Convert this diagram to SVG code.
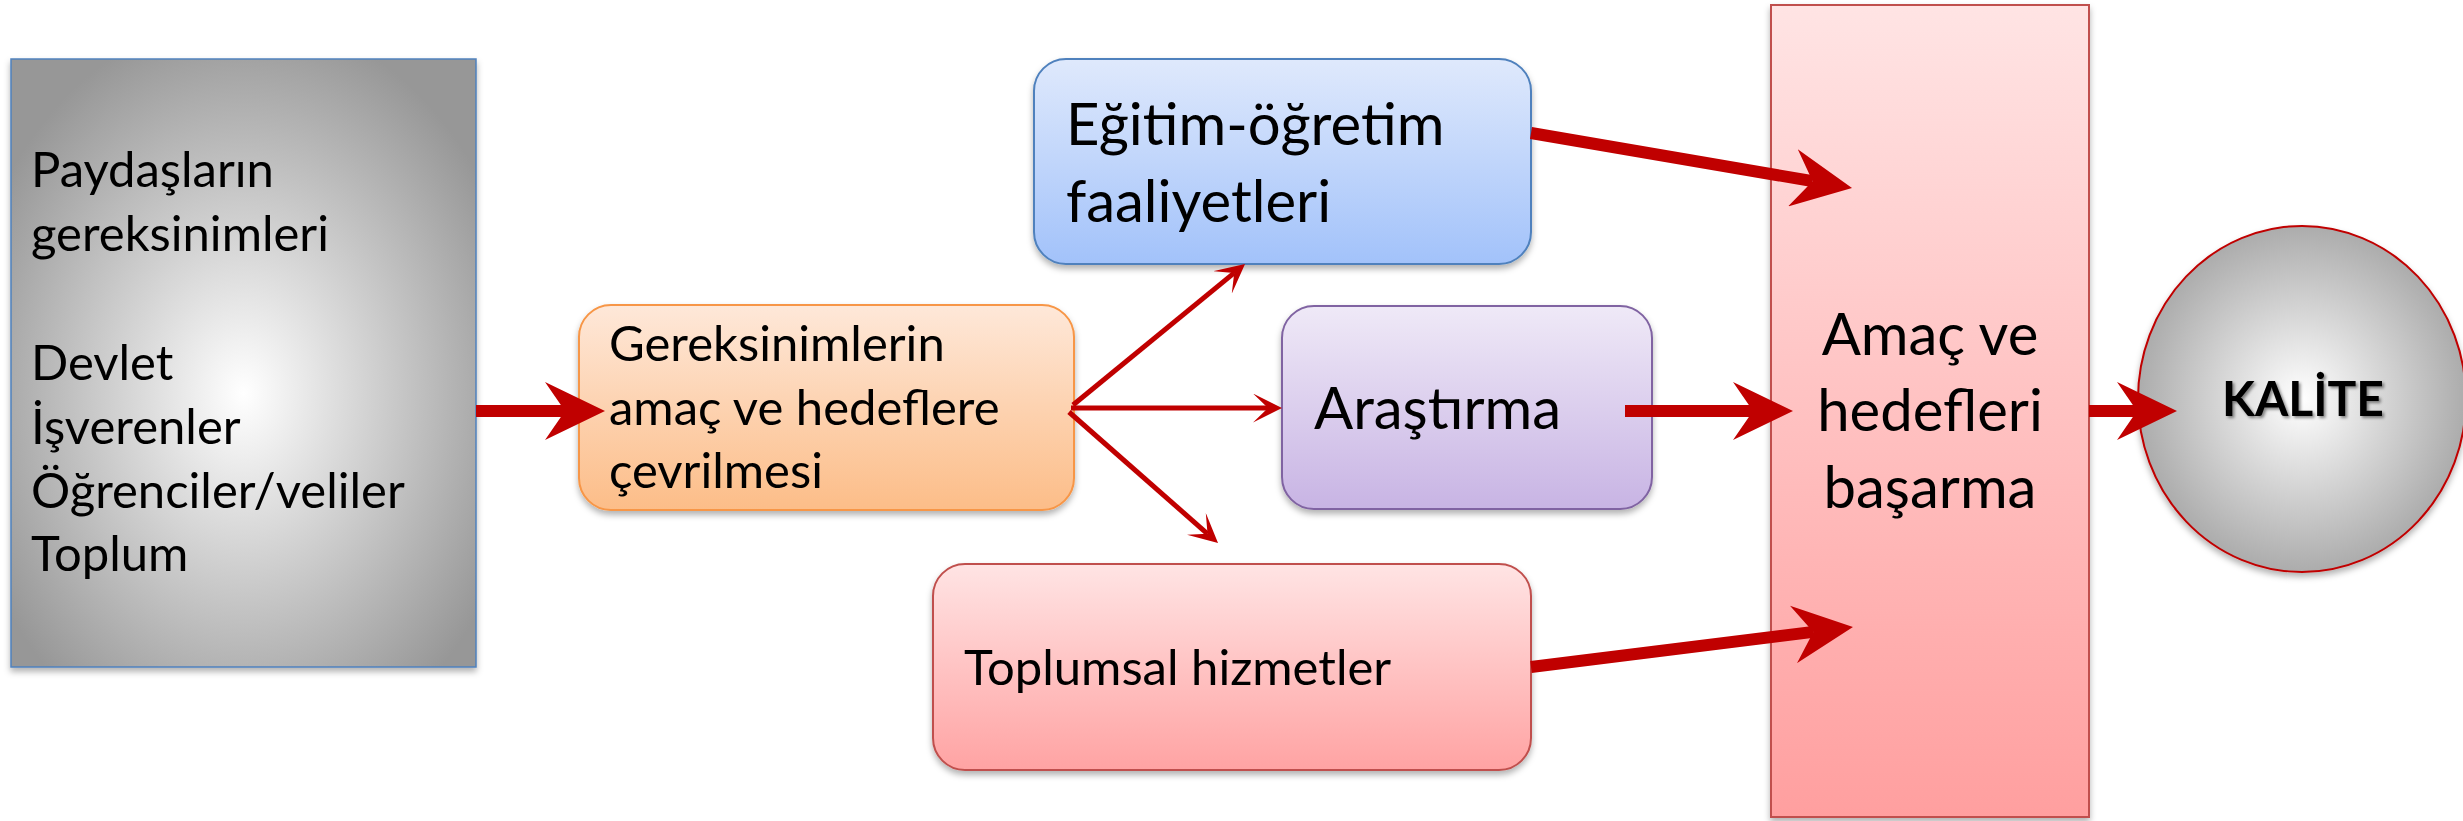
<svg xmlns="http://www.w3.org/2000/svg" width="2463" height="821" viewBox="0 0 2463 821">
<defs>
<style>
.t{font-family:Lato,"Noto Sans","Liberation Sans",sans-serif;fill:#000}
.s{font-size:49px}
.b{font-size:58px}
.k{font-size:48px;font-weight:bold}
.thick{stroke:#c00000;stroke-width:12;fill:none;marker-end:url(#ahT)}
.thin{stroke:#c00000;stroke-width:5;fill:none;marker-end:url(#aht)}
</style>
<radialGradient id="gGray" cx="0.5" cy="0.55" r="0.62">
<stop offset="0" stop-color="#ffffff"/>
<stop offset="1" stop-color="#979797"/>
</radialGradient>
<radialGradient id="gCirc" cx="0.5" cy="0.5" r="0.5">
<stop offset="0" stop-color="#ffffff"/>
<stop offset="1" stop-color="#acacac"/>
</radialGradient>
<linearGradient id="gOr" x1="0" y1="0" x2="0" y2="1">
<stop offset="0" stop-color="#fee8d9"/>
<stop offset="1" stop-color="#fcbd88"/>
</linearGradient>
<linearGradient id="gBl" x1="0" y1="0" x2="0" y2="1">
<stop offset="0" stop-color="#dfe9fc"/>
<stop offset="1" stop-color="#a2c2fa"/>
</linearGradient>
<linearGradient id="gPu" x1="0" y1="0" x2="0" y2="1">
<stop offset="0" stop-color="#efe9f7"/>
<stop offset="1" stop-color="#c8b4e4"/>
</linearGradient>
<linearGradient id="gPk" x1="0" y1="0" x2="0" y2="1">
<stop offset="0" stop-color="#ffe4e4"/>
<stop offset="1" stop-color="#ffa3a3"/>
</linearGradient>
<linearGradient id="gTall" x1="0" y1="0" x2="0" y2="1">
<stop offset="0" stop-color="#ffe4e4"/>
<stop offset="1" stop-color="#ff9f9f"/>
</linearGradient>
<filter id="sh" x="-10%" y="-10%" width="120%" height="125%">
<feDropShadow dx="0" dy="4" stdDeviation="3" flood-color="#000" flood-opacity="0.3"/>
</filter>
<filter id="tsh" x="-10%" y="-20%" width="130%" height="150%">
<feDropShadow dx="2" dy="2" stdDeviation="1.5" flood-color="#000" flood-opacity="0.45"/>
</filter>
<marker id="ahT" markerUnits="userSpaceOnUse" viewBox="0 0 60 58" refX="20" refY="29" markerWidth="60" markerHeight="58" orient="auto">
<path d="M0,0 L60,29 L0,58 L20,29 Z" fill="#c00000"/>
</marker>
<marker id="aht" markerUnits="userSpaceOnUse" viewBox="0 0 29 29" refX="15" refY="14.5" markerWidth="29" markerHeight="29" orient="auto">
<path d="M0,0 L29,14.5 L0,29 L15,14.5 Z" fill="#c00000"/>
</marker>
</defs>
<rect width="2463" height="821" fill="#ffffff"/>

<g id="stakeholders">
<rect x="11" y="59" width="465" height="608" fill="url(#gGray)" stroke="#4f81bd" stroke-width="1.5" filter="url(#sh)"/>
<text class="t s" x="31" y="187">Paydaşların</text>
<text class="t s" x="31" y="251">gereksinimleri</text>
<text class="t s" x="31" y="380">Devlet</text>
<text class="t s" x="31" y="444">İşverenler</text>
<text class="t s" x="31" y="508">Öğrenciler/veliler</text>
<text class="t s" x="31" y="571">Toplum</text>
</g>

<g id="translate">
<rect x="579" y="305" width="495" height="205" rx="32" fill="url(#gOr)" stroke="#f79646" stroke-width="2" filter="url(#sh)"/>
<text class="t s" x="609" y="361">Gereksinimlerin</text>
<text class="t s" x="609" y="425">amaç ve hedeflere</text>
<text class="t s" x="609" y="488">çevrilmesi</text>
</g>

<g id="education">
<rect x="1034" y="59" width="497" height="205" rx="32" fill="url(#gBl)" stroke="#4f81bd" stroke-width="2" filter="url(#sh)"/>
<text class="t b" x="1066" y="145">Eğitim-öğretim</text>
<text class="t b" x="1066" y="222">faaliyetleri</text>
</g>

<g id="research">
<rect x="1282" y="306" width="370" height="203" rx="32" fill="url(#gPu)" stroke="#8064a2" stroke-width="2" filter="url(#sh)"/>
<text class="t b" x="1314" y="429">Araştırma</text>
</g>

<g id="community">
<rect x="933" y="564" width="598" height="206" rx="32" fill="url(#gPk)" stroke="#c0504d" stroke-width="2" filter="url(#sh)"/>
<text class="t s" x="964" y="685">Toplumsal hizmetler</text>
</g>

<g id="goals">
<rect x="1771" y="5" width="318" height="812" fill="url(#gTall)" stroke="#c0504d" stroke-width="2" filter="url(#sh)"/>
<text class="t b" x="1930" y="355" text-anchor="middle">Amaç ve</text>
<text class="t b" x="1930" y="431" text-anchor="middle">hedefleri</text>
<text class="t b" x="1930" y="508" text-anchor="middle">başarma</text>
</g>

<g id="quality">
<ellipse cx="2302" cy="399" rx="164" ry="173" fill="url(#gCirc)" stroke="#c00000" stroke-width="2" filter="url(#sh)"/>
<text class="t k" x="2303" y="416" text-anchor="middle" filter="url(#tsh)">KALİTE</text>
</g>

<g id="connectors">
<line class="thick" x1="476" y1="411" x2="565" y2="411"/>
<line class="thin" x1="1073" y1="405" x2="1234.2" y2="272.9"/>
<line class="thin" x1="1071" y1="408" x2="1268" y2="408"/>
<line class="thin" x1="1069" y1="412" x2="1207.5" y2="533.8"/>
<line class="thick" x1="1531" y1="133" x2="1812.6" y2="181.2"/>
<line class="thick" x1="1625" y1="411" x2="1753" y2="411"/>
<line class="thick" x1="1531" y1="667" x2="1813.3" y2="631.9"/>
<line class="thick" x1="2089" y1="411" x2="2137" y2="411"/>
</g>
</svg>
